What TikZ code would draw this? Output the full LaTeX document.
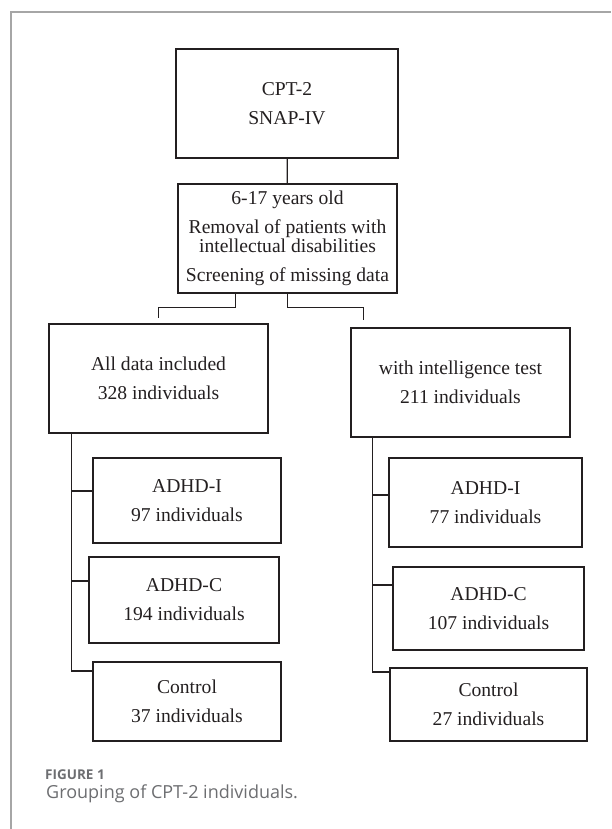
\documentclass[tikz,border=0pt]{standalone}
\usepackage{fontspec}
\setmainfont{Liberation Serif}
\newfontfamily\capfont{Open Sans}
\usepackage{tikz}
\definecolor{ink}{HTML}{231F20}
\definecolor{framegray}{HTML}{A6A6A6}
\definecolor{capgray}{HTML}{6D6E71}

\begin{document}
\begin{tikzpicture}[x=1pt, y=-1pt,
	box/.style = {draw=ink, line width=1.4pt, align=center, inner sep=0pt, text=ink,
		font=\fontsize{19.6}{29}\selectfont},
	link/.style = {draw=ink, line width=1.4pt}]
	\useasboundingbox (0,0) rectangle (611,829);
	\draw [framegray, line width=1.5pt] (11,829) -- (11,12) -- (611,12);

	\node [box, minimum width=222, minimum height=109] (cpt) at (287,103.5) {CPT-2\\SNAP-IV};
	\node [box, minimum width=219, minimum height=109] (filter) at (287.5,238.5)
		{6-17 years old\\Removal of patients with\\[-10pt]intellectual disabilities\\Screening of missing data};
	\node [box, minimum width=219, minimum height=109] (alldata) at (158.5,378.5) {All data included\\328 individuals};
	\node [box, minimum width=219, minimum height=109] (iqtest) at (460.5,382.5) {with intelligence test\\211 individuals};

	\node [box, minimum width=188, minimum height=85] (inattL) at (187,500.5) {ADHD-I\\97 individuals};
	\node [box, minimum width=190, minimum height=86] (combL) at (184,600) {ADHD-C\\194 individuals};
	\node [box, minimum width=188, minimum height=79] (ctrlL) at (187,701.5) {Control\\37 individuals};

	\node [box, minimum width=193, minimum height=89] (inattR) at (485.5,502.5) {ADHD-I\\77 individuals};
	\node [box, minimum width=191, minimum height=83] (combR) at (488.5,608.5) {ADHD-C\\107 individuals};
	\node [box, minimum width=197, minimum height=73] (ctrlR) at (488.5,704.5) {Control\\27 individuals};

	\draw [link] (cpt) -- (filter);
	\draw [link] ([xshift=58pt]filter.south west) -- ++(0,14) -| ([yshift=5pt]alldata.north);
	\draw [link] (filter.south) -- ++(0,14) -| ([shift={(13pt,7pt)}]iqtest.north west);

	\coordinate (trunkL) at ([xshift=23pt]alldata.south west);
	\draw [link] (trunkL) |- ([yshift=30.5pt]ctrlL.west);
	\draw [link] ([yshift=9.5pt]inattL.west -| trunkL) -- ([yshift=9.5pt]inattL.west);
	\draw [link] ([yshift=19pt]combL.west -| trunkL) -- ([yshift=19pt]combL.west);

	\coordinate (trunkR) at ([xshift=22pt]iqtest.south west);
	\draw [link] (trunkR) |- ([yshift=32.5pt]ctrlR.west);
	\draw [link] ([yshift=7.5pt]inattR.west -| trunkR) -- ([yshift=7.5pt]inattR.west);
	\draw [link] ([yshift=23.5pt]combR.west -| trunkR) -- ([yshift=23.5pt]combR.west);

	\node [anchor=base west, inner sep=0pt, text=capgray, font=\capfont\bfseries\fontsize{13.5}{16}\selectfont] (fignum) at (45,779) {FIGURE 1};
	\node [anchor=base west, inner sep=0pt, text=capgray, font=\capfont\fontsize{18}{22}\selectfont] (figcap) at (46,798) {Grouping of CPT-2 individuals.};
\end{tikzpicture}
\end{document}
